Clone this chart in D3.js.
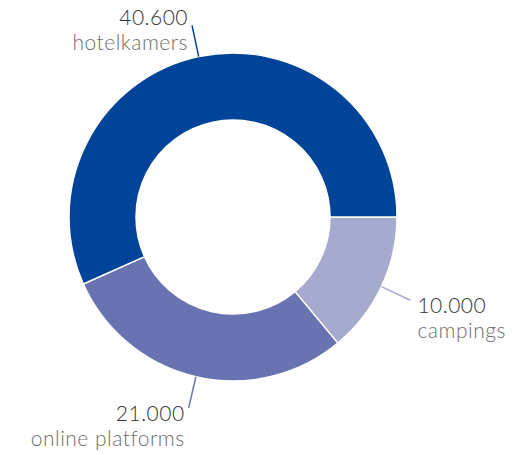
<!DOCTYPE html>
<html>
<script src="https://d3js.org/d3.v7.min.js"></script>

<head>
    <style>
        body {
            margin: 0;
            background-color: #ffffff;
            font-family: Lato, "Open Sans", Arial, sans-serif;
        }

        svg {
            display: block;
        }
    </style>
</head>

<body>
</body>
<script>
    const width = 531,
        height = 455;

    // data, in drawing order (clockwise from 3 o'clock)
    const categories = ["campings", "online platforms", "hotelkamers"];
    const values = [10000, 21000, 40600];
    const colors = ["#a6aacf", "#6a73b1", "#00449a"];

    const svg = d3.select("body").append("svg").attr("width", width).attr("height", height);

    const cx = 233,
        cy = 217;
    const outerR = 164,
        innerR = 97;

    // dutch number format: 40.600
    const nl = d3.formatLocale({ decimal: ",", thousands: ".", grouping: [3], currency: ["€", ""] });
    const fmt = nl.format(",");

    const data = categories.map((c, i) => ({ name: c, value: values[i] }));
    const color = d3.scaleOrdinal().domain(categories).range(colors);

    const pie = d3.pie()
        .sort(null)
        .value(d => d.value)
        .startAngle(Math.PI / 2)
        .endAngle(Math.PI / 2 + 2 * Math.PI);
    const arc = d3.arc().innerRadius(innerR).outerRadius(outerR);

    const g = svg.append("g").attr("transform", `translate(${cx},${cy})`);
    const arcs = pie(data);

    g.selectAll("path.slice")
        .data(arcs)
        .join("path")
        .attr("class", "slice")
        .attr("d", arc)
        .attr("fill", d => color(d.data.name))
        .attr("stroke", "#ffffff")
        .attr("stroke-width", 1.5);

    // leader lines and labels
    arcs.forEach(d => {
        const a = (d.startAngle + d.endAngle) / 2;
        const sx = Math.sin(a), sy = -Math.cos(a);
        const r1 = outerR, r2 = 196;
        const x1 = sx * r1, y1 = sy * r1;
        const x2 = sx * r2, y2 = sy * r2;
        g.append("line")
            .attr("x1", x1).attr("y1", y1)
            .attr("x2", x2).attr("y2", y2)
            .attr("stroke", color(d.data.name))
            .attr("stroke-width", 1.5);

        const right = sx > 0;
        const top = sy < 0;
        const tx = x2 + (right ? 7 : -4);
        const ty = y2 + (top ? 0 : 13);
        const anchor = right ? "start" : "end";
        g.append("text")
            .attr("x", tx)
            .attr("y", ty)
            .attr("text-anchor", anchor)
            .attr("font-size", "21px")
            .attr("font-weight", 300)
            .attr("letter-spacing", "0.5px")
            .attr("fill", "#333333")
            .text(fmt(d.data.value));
        g.append("text")
            .attr("x", tx)
            .attr("y", ty + 25)
            .attr("text-anchor", anchor)
            .attr("font-size", "21px")
            .attr("font-weight", 300)
            .attr("letter-spacing", "0.5px")
            .attr("fill", "#6e6e6e")
            .text(d.data.name);
    });
</script>

</html>
